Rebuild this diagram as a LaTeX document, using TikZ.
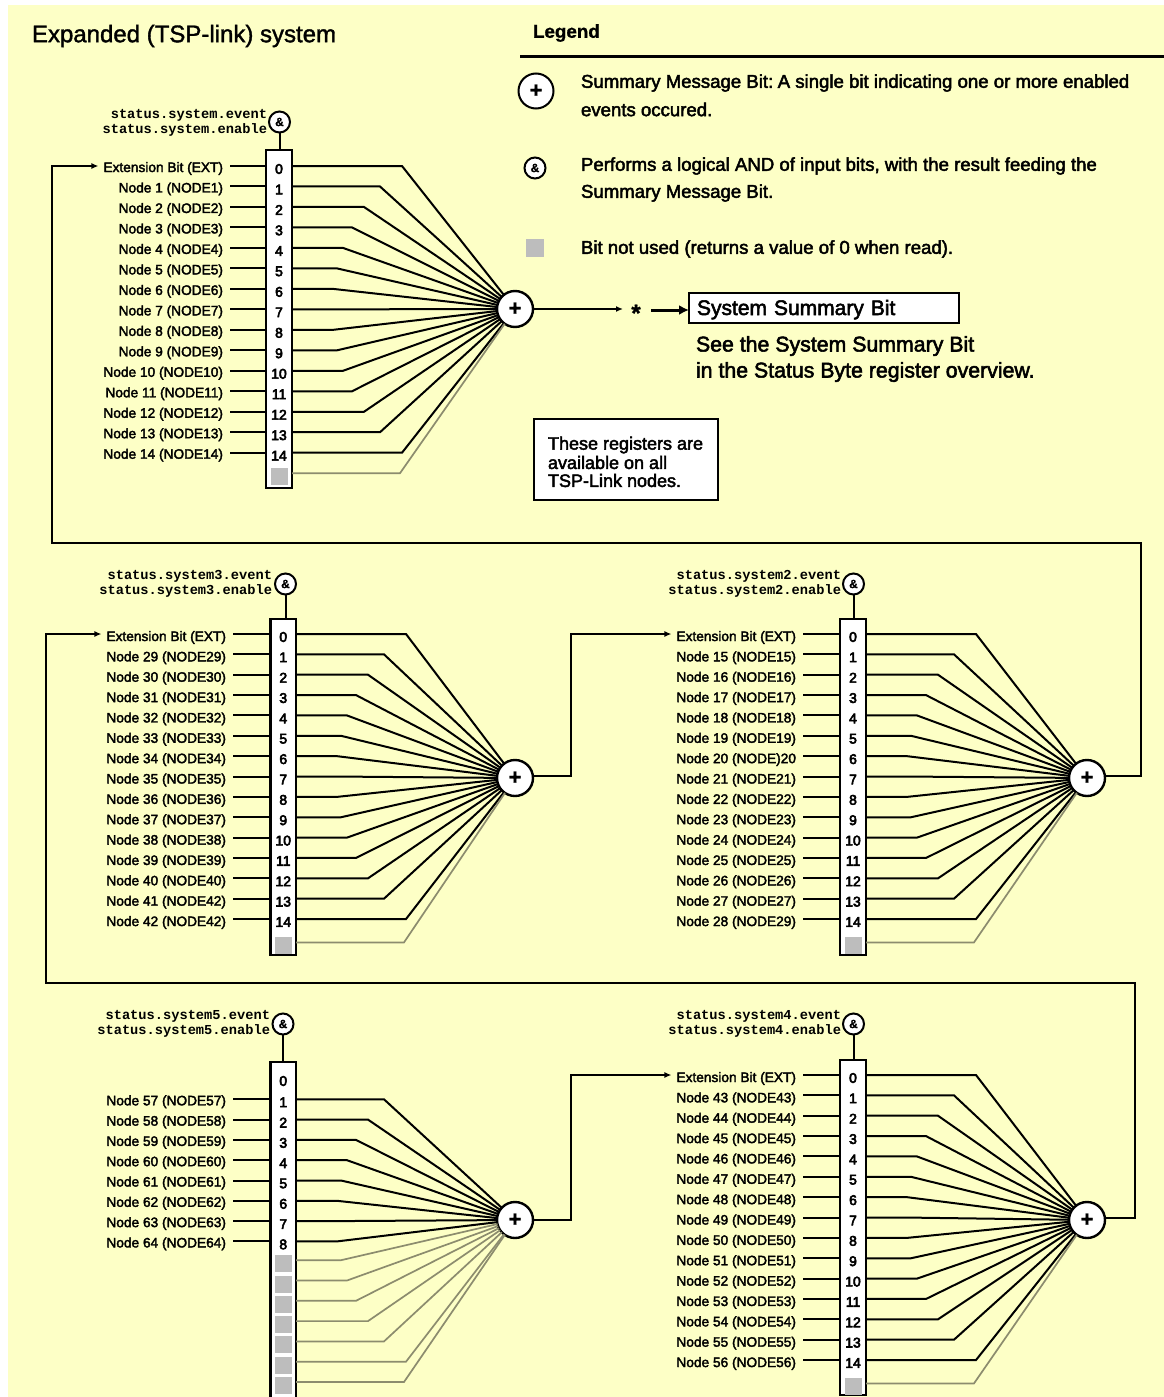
\documentclass[tikz,border=0pt]{standalone}
\usepackage{fontspec}
\usetikzlibrary{arrows.meta,calc}
\setmainfont{Liberation Sans}
\newfontfamily\sansfb[FakeBold=2.5]{Liberation Sans}
\newfontfamily\sansmd[FakeBold=1.5]{Liberation Sans}
\newfontfamily\sansdg[FakeBold=4]{Liberation Sans}
\newfontfamily\sansbd[FakeBold=1]{Liberation Sans Bold}
\newfontfamily\monofb{Liberation Mono Bold}
\definecolor{panelbg}{HTML}{FDFFC6}
\definecolor{unusedgray}{HTML}{BDBDBD}
\definecolor{unusedline}{HTML}{8C8C6E}
\tikzset{
  every node/.style={outer sep=0pt},
  lbl/.style={anchor=east,inner xsep=5pt,inner ysep=0pt,text height=\lblh pt,text depth=0pt,font=\fontsize{13.7}{16}\sansfb},
  stat/.style={anchor=east,inner sep=0pt,font=\fontsize{13.7}{15}\monofb},
  bitn/.style={inner sep=0pt,font=\fontsize{14}{16}\sansdg},
  regbox/.style={draw=black,fill=white,line width=2.4pt,anchor=north west,inner sep=0pt},
  sumc/.style={circle,draw=black,fill=white,line width=2.4pt,minimum size=36pt,inner sep=0pt,font=\fontsize{22}{22}\sansbd},
  andc/.style={circle,draw=black,fill=white,line width=2pt,minimum size=21pt,inner sep=0pt,font=\fontsize{12}{12}\sansbd},
  wire/.style={draw=black,line width=2pt},
  grayw/.style={draw=unusedline,line width=1.7pt},
  flow/.style={draw=black,line width=2pt},
  flowarr/.style={flow,-{Latex[length=7pt,width=6pt]}},
  squ/.style={fill=unusedgray,minimum size=17pt,inner sep=0pt},
  legt/.style={anchor=west,inner sep=0pt,font=\fontsize{18.6}{20}\sansfb},
}
\def\lblh{14}
\newcommand\regsetup[9]{\def\pid{#1}\def\bL{#2}\def\bR{#3}\def\bT{#4}\def\bB{#5}\def\rz{#6}\def\rowp{#7}\def\labR{#8}\def\sx{#9}}
\newcommand\regdraw[6]{%
  \pgfmathsetmacro\bW{\bR-\bL}\pgfmathsetmacro\bH{\bB-\bT}\pgfmathsetmacro\bC{(\bL+\bR)/2}%
  \node[regbox,minimum width=\bW pt,minimum height=\bH pt] (box\pid) at (\bL,\bT) {};
  \node[sumc] (s\pid) at (\sx,#1) {+};
  \node[andc] (a\pid) at (#4) {\&};
  \node[stat] (se\pid) at (#3,\statA+1) {status.#2.event};
  \node[stat] (sn\pid) at (#3,\statA+15.6) {status.#2.enable};
  \draw[wire] (a\pid) -- (a\pid |- box\pid.north);
  \foreach \i/\t in {#5}{
    \pgfmathsetmacro\yy{\rz+\i*\rowp}
    \pgfmathparse{{110,88,72,60,51,45,41,40,41,45,51,60,72,88,110,108}[\i]}\let\ex\pgfmathresult
    \node[lbl] (lab\pid-\i) at ({\labR+5},\yy) {\t};
    \node[bitn] (bit\pid-\i) at (\bC,{\yy+3}) {\i};
    \coordinate (r\pid-\i) at (\bR,\yy);
    \draw[wire,shorten <=2pt] (lab\pid-\i.east) -- (lab\pid-\i.east -| box\pid.west);
    \draw[wire] (r\pid-\i) -- ++(\ex,0) -- (s\pid);
  }
  \foreach \i in {#6}{
    \pgfmathsetmacro\yy{\rz+\i*\rowp+\gof}
    \pgfmathparse{{110,88,72,60,51,45,41,40,41,45,51,60,72,88,110,108}[\i]}\let\ex\pgfmathresult
    \node[squ] (q\pid-\i) at (\bC,{\yy+3.5}) {};
    \coordinate (r\pid-\i) at (\bR,\yy);
    \draw[grayw] (r\pid-\i) -- ++(\ex,0) -- (s\pid);
  }
}
\begin{document}
\begin{tikzpicture}[x=1pt,y=-1pt]
\useasboundingbox (0,0) rectangle (1164,1397);
\clip (0,0) rectangle (1164,1397);
\fill[white] (0,0) rectangle (1164,1397);
\fill[panelbg] (8,5) rectangle (1164,1397);

\node[anchor=west,inner sep=0pt,font=\fontsize{24}{26}\sansmd] (title) at (32,36) {Expanded (TSP-link) system};
\node[anchor=west,inner sep=0pt,font=\fontsize{18.8}{20}\sansbd] (legend) at (533,33) {Legend};
\coordinate (rule1) at (520,57);
\coordinate (rule2) at (1164,57);
\draw[line width=3pt] (rule1) -- (rule2);
\node[sumc,line width=2pt,minimum size=35pt] (legsum) at (536,91) {+};
\node[andc] (legand) at (535,168) {\&};
\node[fill=unusedgray,minimum size=18pt,inner sep=0pt] (legsq) at (535,248) {};
\node[legt] (lt1) at (581,83) {Summary Message Bit:\hspace{4.5pt}A single bit indicating one or more enabled};
\node[legt] (lt2) at (581,109.5) {events occured.};
\node[legt] (lt3) at (581,166) {Performs a logical AND of input bits, with the result feeding the};
\node[legt] (lt4) at (581,193) {Summary Message Bit.};
\node[legt] (lt5) at (581,249) {Bit not used (returns a value of 0 when read).};

% Panel 1
\def\gof{0}
\def\lblh{12}
\regsetup{1}{266}{292}{150}{488}{166}{20.48}{223}{515}
\def\statA{114}
\regdraw{309}{system}{267}{279.5,122}{0/Extension Bit (EXT),1/Node 1 (NODE1),2/Node 2 (NODE2),3/Node 3 (NODE3),4/Node 4 (NODE4),5/Node 5 (NODE5),6/Node 6 (NODE6),7/Node 7 (NODE7),8/Node 8 (NODE8),9/Node 9 (NODE9),10/Node 10 (NODE10),11/Node 11 (NODE11),12/Node 12 (NODE12),13/Node 13 (NODE13),14/Node 14 (NODE14)}{15}

% Panel 2
\def\gof{3}
\def\lblh{14}
\regsetup{2}{270.5}{296}{619}{955}{634}{20.36}{226}{515}
\def\statA{575}
\regdraw{778}{system3}{272}{285.5,584}{0/Extension Bit (EXT),1/Node 29 (NODE29),2/Node 30 (NODE30),3/Node 31 (NODE31),4/Node 32 (NODE32),5/Node 33 (NODE33),6/Node 34 (NODE34),7/Node 35 (NODE35),8/Node 36 (NODE36),9/Node 37 (NODE37),10/Node 38 (NODE38),11/Node 39 (NODE39),12/Node 40 (NODE40),13/Node 41 (NODE42),14/Node 42 (NODE42)}{15}

% Panel 3
\regsetup{3}{840}{866}{619}{955}{634}{20.36}{796}{1087}
\def\statA{575}
\regdraw{778}{system2}{841}{853.5,584}{0/Extension Bit (EXT),1/Node 15 (NODE15),2/Node 16 (NODE16),3/Node 17 (NODE17),4/Node 18 (NODE18),5/Node 19 (NODE19),6/Node 20 (NODE)20,7/Node 21 (NODE21),8/Node 22 (NODE22),9/Node 23 (NODE23),10/Node 24 (NODE24),11/Node 25 (NODE25),12/Node 26 (NODE26),13/Node 27 (NODE27),14/Node 28 (NODE29)}{15}

% Panel 4
\regsetup{4}{840}{866}{1060}{1395}{1075}{20.36}{796}{1087}
\def\statA{1015}
\regdraw{1220}{system4}{841}{853.5,1024}{0/Extension Bit (EXT),1/Node 43 (NODE43),2/Node 44 (NODE44),3/Node 45 (NODE45),4/Node 46 (NODE46),5/Node 47 (NODE47),6/Node 48 (NODE48),7/Node 49 (NODE49),8/Node 50 (NODE50),9/Node 51 (NODE51),10/Node 52 (NODE52),11/Node 53 (NODE53),12/Node 54 (NODE54),13/Node 55 (NODE55),14/Node 56 (NODE56)}{15}

% Panel 5
\def\gof{-1.5}
\def\lblh{12}
\regsetup{5}{270.5}{296}{1062}{1405}{1079}{20.3}{226}{515}
\def\statA{1015}
\regdraw{1220}{system5}{270}{283,1024}{1/Node 57 (NODE57),2/Node 58 (NODE58),3/Node 59 (NODE59),4/Node 60 (NODE60),5/Node 61 (NODE61),6/Node 62 (NODE62),7/Node 63 (NODE63),8/Node 64 (NODE64)}{9,10,11,12,13,14,15}
\node[bitn] (bit5-0) at (283.25,1081) {0};

% Flow connectors
\coordinate (sumout) at (623,309);
\draw[flowarr] (s1) -- (sumout);
\node[inner sep=0pt,font=\fontsize{24}{24}\sansbd] (star) at (636,313) {*};
\node[draw=black,line width=2pt,fill=white,anchor=west,minimum width=270pt,minimum height=30pt,inner xsep=8pt,inner ysep=0pt,text width=254pt,text height=16pt,text depth=2pt,font=\fontsize{21}{24}\sansfb] (ssb) at (689,308) {System Summary Bit};
\coordinate (thick) at (651,310);
\draw[line width=3pt,-{Latex[length=10pt,width=10pt]}] (thick) -- (thick -| ssb.west);
\node[anchor=west,inner sep=0pt,font=\fontsize{21.3}{24}\sansfb] (see1) at (696,346) {See the System Summary Bit};
\node[anchor=west,inner sep=0pt,font=\fontsize{21.3}{24}\sansfb] (see2) at (696,372) {in the Status Byte register overview.};
\node[draw=black,line width=1.5pt,fill=white,anchor=north west,minimum width=184pt,minimum height=81pt,inner sep=0pt] (note) at (534,419) {};
\node[anchor=west,inner sep=0pt,font=\fontsize{18}{20}\sansfb] (note1) at (548,445) {These registers are};
\node[anchor=west,inner sep=0pt,font=\fontsize{18}{20}\sansfb] (note2) at (548,462.5) {available on all};
\node[anchor=west,inner sep=0pt,font=\fontsize{18}{20}\sansfb] (note3) at (548,480.5) {TSP-Link nodes.};

\coordinate (o3) at (1105,776);
\coordinate (c1) at (1141,543);
\coordinate (c2) at (52,543);
\draw[flowarr] (o3) -| (c1) -- (c2) |- (lab1-0.west);
\coordinate (o2) at (533,776);
\coordinate (c3) at (571,634);
\draw[flowarr] (o2) -| (c3) -- (lab3-0.west);
\coordinate (o4) at (1105,1218);
\coordinate (c4) at (1135,983);
\coordinate (c5) at (46,983);
\draw[flowarr] (o4) -| (c4) -- (c5) |- (lab2-0.west);
\coordinate (c6) at (571,1075);
\draw[flowarr] (s5) -| (c6) -- (lab4-0.west);
\end{tikzpicture}
\end{document}
